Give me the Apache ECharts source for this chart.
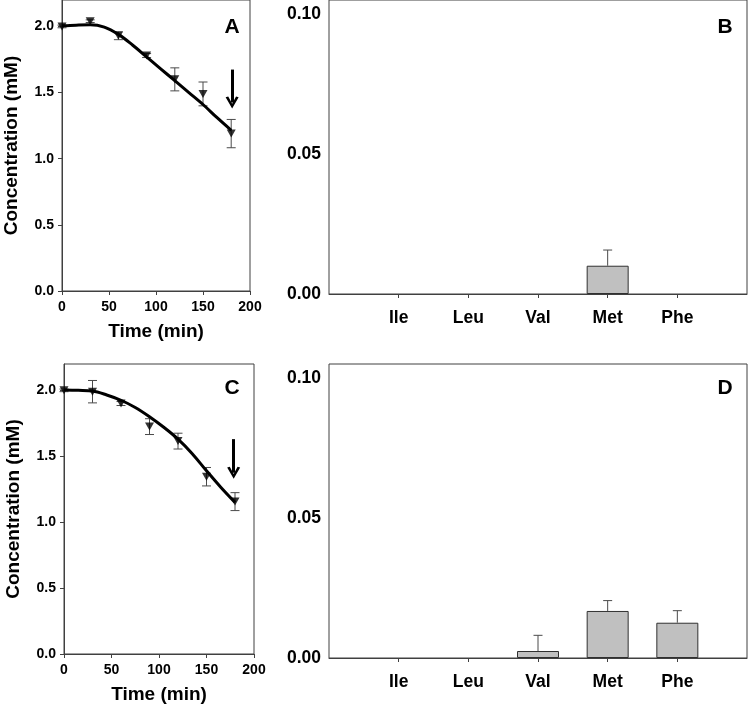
<!DOCTYPE html>
<html><head><meta charset="utf-8">
<script src="https://cdn.jsdelivr.net/npm/echarts@6/dist/echarts.min.js"></script>
<style>html,body{margin:0;padding:0;background:#fff}#c{width:750px;height:707px}</style>
</head><body><div id="c"></div>
<script>
// ---- data ----
const timePoints = [0, 30, 60, 90, 120, 150, 180];
const meanA = [2.00, 2.04, 1.93, 1.78, 1.60, 1.49, 1.19];
const errA  = [0.01, 0.01, 0.03, 0.015, 0.087, 0.09, 0.107];
const meanC = [2.00, 1.99, 1.90, 1.725, 1.615, 1.345, 1.156];
const errC  = [0.01, 0.085, 0.015, 0.06, 0.06, 0.07, 0.068];
const curveTimes = [0, 15, 30, 45, 60, 75, 90, 105, 120, 135, 150, 165, 180];
const curveA = [2.005, 2.01, 2.013, 1.995, 1.94, 1.86, 1.77, 1.68, 1.59, 1.50, 1.41, 1.31, 1.215];
const curveC = [2.003, 2.0, 1.995, 1.965, 1.925, 1.87, 1.80, 1.72, 1.63, 1.52, 1.39, 1.265, 1.15];
const aminoAcids = ['Ile', 'Leu', 'Val', 'Met', 'Phe'];
const barsB = [0, 0, 0, 0.0101, 0];
const errB  = [0, 0, 0, 0.0056, 0];
const barsD = [0, 0, 0.0025, 0.0168, 0.0126];
const errD  = [0, 0, 0.0056, 0.0037, 0.0043];
const timeTicks = [0, 50, 100, 150, 200];
const concTicks = [0, 0.5, 1.0, 1.5, 2.0];
const aaTicks = [0, 0.05, 0.10];

// ---- styles ----
const FONT = '"Liberation Sans", Arial, sans-serif';
const AXC = '#404040';
const chart = echarts.init(document.getElementById('c'));

function timeX(gi) {
  return {
    type: 'value', gridIndex: gi, min: 0, max: 200, interval: 50,
    name: 'Time (min)', nameLocation: 'middle', nameGap: 31,
    nameTextStyle: {fontFamily: FONT, fontWeight: 'bold', fontSize: 19, color: '#000'},
    axisLine: {onZero: false, lineStyle: {color: AXC, width: 1}},
    axisTick: {length: 4, lineStyle: {color: AXC}},
    axisLabel: {margin: 9, fontFamily: FONT, fontWeight: 'bold', fontSize: 14, color: '#000'},
    splitLine: {show: false}
  };
}
function concY(gi) {
  return {
    type: 'value', gridIndex: gi, min: 0, max: 2.2,
    name: 'Concentration (mM)', nameLocation: 'middle', nameGap: 41, nameRotate: 90,
    nameTextStyle: {fontFamily: FONT, fontWeight: 'bold', fontSize: 19, color: '#000'},
    axisLine: {lineStyle: {color: AXC, width: 1}},
    axisTick: {length: 4, customValues: concTicks, lineStyle: {color: AXC}},
    axisLabel: {margin: 8, customValues: concTicks, formatter: v => v.toFixed(1),
      fontFamily: FONT, fontWeight: 'bold', fontSize: 14, color: '#000'},
    splitLine: {show: false}
  };
}
const paddedCats = [''].concat(aminoAcids, ['']);
function aaX(gi) {
  return {
    type: 'category', gridIndex: gi, data: paddedCats, boundaryGap: false,
    axisLine: {onZero: false, lineStyle: {color: AXC, width: 1}},
    axisTick: {length: 4, interval: (i) => i > 0 && i < paddedCats.length - 1, lineStyle: {color: AXC}},
    axisLabel: {interval: 0, margin: 15, fontFamily: FONT, fontWeight: 'bold', fontSize: 17.5, color: '#000'},
    splitLine: {show: false}
  };
}
function aaY(gi) {
  return {
    type: 'value', gridIndex: gi, min: 0, max: 0.105,
    axisLine: {lineStyle: {color: AXC, width: 1}},
    axisTick: {length: 4, customValues: aaTicks, lineStyle: {color: AXC}},
    axisLabel: {margin: 8, customValues: aaTicks, formatter: v => v.toFixed(2),
      fontFamily: FONT, fontWeight: 'bold', fontSize: 17.5, color: '#000'},
    splitLine: {show: false}
  };
}
function errRender(both) {
  return function (params, api) {
    const x = api.value(0), lo = api.value(1), hi = api.value(2);
    if (hi - lo <= 0) return null;
    const p1 = api.coord([x, lo]);
    const p2 = api.coord([x, hi]);
    const w = 4.5;
    const st = {stroke: '#4a4a4a', lineWidth: 1};
    const ch = [
      {type: 'line', shape: {x1: p1[0], y1: p1[1], x2: p2[0], y2: p2[1]}, style: st},
      {type: 'line', shape: {x1: p2[0] - w, y1: p2[1], x2: p2[0] + w, y2: p2[1]}, style: st}
    ];
    if (both) ch.push({type: 'line', shape: {x1: p1[0] - w, y1: p1[1], x2: p1[0] + w, y2: p1[1]}, style: st});
    return {type: 'group', children: ch};
  };
}
const chevron = 'path://M0,10 L5,0 L10,10 L8,10.6 L5,4.2 L2,10.6 Z';
function curveSeries(ai, times, vals, arrowX, arrowFrom, arrowTo) {
  return {
    type: 'line', xAxisIndex: ai, yAxisIndex: ai, smooth: 0.35, showSymbol: false, silent: true,
    data: times.map((t, i) => [t, vals[i]]),
    lineStyle: {color: '#000', width: 3}, z: 3,
    markLine: {
      silent: true, symbol: ['none', chevron], symbolSize: [13, 12],
      label: {show: false},
      lineStyle: {color: '#000', width: 3, type: 'solid'},
      data: [[{coord: [arrowX, arrowFrom]}, {coord: [arrowX, arrowTo]}]]
    }
  };
}
function markerSeries(ai, means) {
  return {
    type: 'scatter', xAxisIndex: ai, yAxisIndex: ai, symbol: 'triangle', symbolRotate: 180,
    symbolSize: [9, 8], itemStyle: {color: '#000'}, z: 4, silent: true,
    data: timePoints.map((t, i) => [t, means[i]])
  };
}
function lineErrSeries(ai, means, errs) {
  return {
    type: 'custom', xAxisIndex: ai, yAxisIndex: ai, renderItem: errRender(true), z: 2, silent: true,
    data: timePoints.map((t, i) => [t, means[i] - errs[i], means[i] + errs[i]])
  };
}
function barSeries(ai, vals) {
  return {
    type: 'bar', xAxisIndex: ai, yAxisIndex: ai, barWidth: 42, silent: true,
    itemStyle: {color: '#c0c0c0', borderColor: '#303030', borderWidth: 1},
    data: ['-'].concat(vals.map(v => (v > 0 ? v : '-')), ['-'])
  };
}
function barErrSeries(ai, vals, errs) {
  return {
    type: 'custom', xAxisIndex: ai, yAxisIndex: ai, renderItem: errRender(false), z: 5, silent: true,
    data: vals.map((v, i) => [i + 1, v, v + errs[i]])
  };
}
function letter(t, x, y) {
  return {type: 'text', x: x, y: y, style: {text: t, font: 'bold 21px ' + FONT, fill: '#000', align: 'center', verticalAlign: 'middle'}};
}
const gridStyle = {show: true, borderColor: AXC, borderWidth: 1, backgroundColor: 'transparent'};
chart.setOption({
  animation: false,
  backgroundColor: '#fff',
  grid: [
    Object.assign({left: 62, top: 0, width: 188, height: 291}, gridStyle),
    Object.assign({left: 329, top: 0, width: 420, height: 294}, gridStyle),
    Object.assign({left: 64, top: 364, width: 190, height: 290}, gridStyle),
    Object.assign({left: 329, top: 364, width: 420, height: 294}, gridStyle)
  ],
  xAxis: [timeX(0), aaX(1), timeX(2), aaX(3)],
  yAxis: [concY(0), aaY(1), concY(2), aaY(3)],
  series: [
    lineErrSeries(0, meanA, errA),
    curveSeries(0, curveTimes, curveA, 181, 1.674, 1.425),
    markerSeries(0, meanA),
    barSeries(1, barsB),
    barErrSeries(1, barsB, errB),
    lineErrSeries(2, meanC, errC),
    curveSeries(2, curveTimes, curveC, 178.6, 1.63, 1.375),
    markerSeries(2, meanC),
    barSeries(3, barsD),
    barErrSeries(3, barsD, errD)
  ],
  graphic: [letter('A', 232, 27), letter('B', 725, 27), letter('C', 232, 388), letter('D', 725, 388)]
});
</script>
</body></html>
